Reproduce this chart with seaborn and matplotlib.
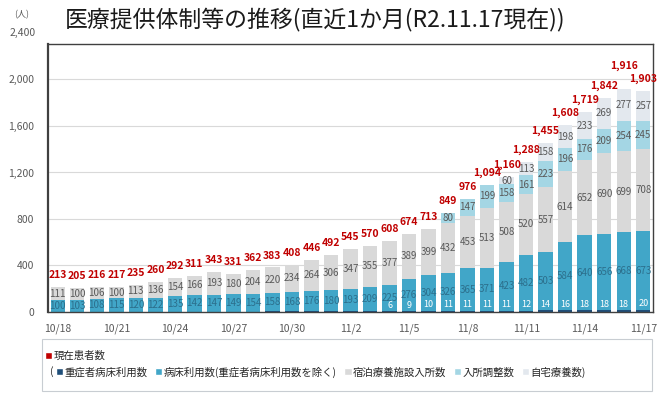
import pandas as pd
import matplotlib.pyplot as plt
import seaborn as sns
from matplotlib.patches import Patch, Rectangle

# 医療提供体制等の推移 (R2.10.18 - R2.11.17)
dates = ['10/18', '10/19', '10/20', '10/21', '10/22', '10/23', '10/24', '10/25',
         '10/26', '10/27', '10/28', '10/29', '10/30', '10/31', '11/1', '11/2',
         '11/3', '11/4', '11/5', '11/6', '11/7', '11/8', '11/9', '11/10',
         '11/11', '11/12', '11/13', '11/14', '11/15', '11/16', '11/17']
severe = [2, 2, 2, 2, 2, 2, 3, 3, 3, 2, 4, 5, 6, 6, 6, 5,
          6, 6, 9, 10, 11, 11, 11, 11, 12, 14, 16, 18, 18, 18, 20]
hospital = [100, 103, 108, 115, 120, 122, 135, 142, 147, 149, 154, 158, 168, 176, 180, 193,
            209, 225, 276, 304, 326, 365, 371, 423, 482, 503, 584, 640, 656, 668, 673]
lodging = [111, 100, 106, 100, 113, 136, 154, 166, 193, 180, 204, 220, 234, 264, 306, 347,
           355, 377, 389, 399, 432, 453, 513, 508, 520, 557, 614, 652, 690, 699, 708]
adjusting = [0, 0, 0, 0, 0, 0, 0, 0, 0, 0, 0, 0, 0, 0, 0, 0,
             0, 0, 0, 0, 80, 147, 199, 158, 161, 223, 196, 176, 209, 254, 245]
home = [0, 0, 0, 0, 0, 0, 0, 0, 0, 0, 0, 0, 0, 0, 0, 0,
        0, 0, 0, 0, 0, 0, 0, 60, 113, 158, 198, 233, 269, 277, 257]
totals = [213, 205, 216, 217, 235, 260, 292, 311, 343, 331, 362, 383, 408, 446, 492, 545,
          570, 608, 674, 713, 849, 976, 1094, 1160, 1288, 1455, 1608, 1719, 1842, 1916, 1903]
# severe counts are only printed from 11/4 on
severe_first_label = 17

series = [
    ('重症者病床利用数', severe, '#1F4E79'),
    ('病床利用数(重症者病床利用数を除く)', hospital, '#41A6C8'),
    ('宿泊療養施設入所数', lodging, '#D9D9D9'),
    ('入所調整数', adjusting, '#A4D6E4'),
    ('自宅療養数', home, '#E3E8EE'),
]

df = pd.DataFrame({'date': dates})

sns.set_theme(style='white')
plt.rcParams['font.family'] = ['Noto Sans CJK JP', 'DejaVu Sans']

fig = plt.figure(figsize=(6.6, 3.96), dpi=100)
ax = fig.add_axes([48 / 660, 84 / 396, 605 / 660, 268 / 396])

bottom = [0] * len(dates)
for name, vals, col in series:
    sns.barplot(x=df['date'], y=vals, bottom=bottom, color=col, saturation=1,
                width=0.74, errorbar=None, linewidth=0, ax=ax, zorder=2)
    bottom = [b + v for b, v in zip(bottom, vals)]

cont = ax.containers
# value labels
sev_labels = [str(v) if i >= severe_first_label else '' for i, v in enumerate(severe)]
ax.bar_label(cont[0], labels=sev_labels, label_type='edge', padding=1,
             fontsize=6.5, color='white')
ax.bar_label(cont[1], labels=[str(v) for v in hospital], label_type='center',
             fontsize=7, color='#2C6F8C')
ax.bar_label(cont[2], labels=[str(v) for v in lodging], label_type='center',
             fontsize=7, color='#595959')
ax.bar_label(cont[3], labels=[str(v) if v else '' for v in adjusting], label_type='center',
             fontsize=7, color='#595959')
ax.bar_label(cont[4], labels=[str(v) if v else '' for v in home], label_type='center',
             fontsize=7, color='#595959')
tot = ax.bar_label(cont[4], labels=[f'{v:,}' for v in totals], label_type='edge', padding=5,
                   fontsize=7.5, color='#C00000', fontweight='bold', fontstyle='italic')
# 11/16 sits higher so it clears 11/17
tot[29].xyann = (0, 13)

ax.set_xlim(-0.5, len(dates) - 0.5)
ax.set_ylim(0, 2305)
ax.set_yticks(range(0, 2400, 400))
ax.yaxis.set_major_formatter(plt.FuncFormatter(lambda v, p: f'{int(v):,}'))
ax.set_xticks(range(0, len(dates), 3))
ax.set_xticklabels(dates[::3])
ax.tick_params(axis='both', length=0, labelsize=7.5, labelcolor='#595959')
ax.tick_params(axis='x', pad=8)
ax.tick_params(axis='y', pad=10)
ax.text(-0.02, 2400, '2,400', transform=ax.get_yaxis_transform(), ha='right',
        va='center', fontsize=7.5, color='#595959', clip_on=False)
ax.set_xlabel('')
ax.set_ylabel('')
ax.grid(axis='y', color='#D9D9D9', linewidth=0.8, zorder=0)
ax.set_axisbelow(True)
for s in ax.spines.values():
    s.set_color('#404040')
    s.set_linewidth(1.0)
ax.spines['left'].set_linewidth(1.6)

fig.text(22 / 660, 1 - 15 / 396, '(人)', fontsize=6.5, color='#595959', ha='center', va='center')
fig.text(65 / 660, 1 - 19 / 396, '医療提供体制等の推移(直近1か月(R2.11.17現在))',
         fontsize=16.5, color='#1A1A1A', ha='left', va='center')

# legend box
fig.patches.append(Rectangle((42 / 660, 5 / 396), 610 / 660, 52 / 396,
                             transform=fig.transFigure, facecolor='white',
                             edgecolor='#C8CDD2', linewidth=0.8))
leg1 = fig.legend(handles=[Patch(facecolor='#C00000')], labels=['現在患者数'],
                  loc='center left', bbox_to_anchor=(45 / 660, 1 - 356 / 396),
                  frameon=False, fontsize=7.5, handlelength=0.7, handleheight=0.7,
                  handletextpad=0.15, borderpad=0, borderaxespad=0)
fig.text(50 / 660, 1 - 372 / 396, '(', fontsize=7.5, color='#262626', ha='left', va='center')
labels2 = [name for name, _, _ in series]
labels2[-1] = labels2[-1] + ')'
leg2 = fig.legend(handles=[Patch(facecolor=c) for _, _, c in series], labels=labels2,
                  loc='center left', bbox_to_anchor=(56 / 660, 1 - 372 / 396), ncol=5,
                  frameon=False, fontsize=7.5, handlelength=0.7, handleheight=0.7,
                  handletextpad=0.15, columnspacing=0.7, borderpad=0, borderaxespad=0)

plt.savefig('out.png', dpi=100)
plt.close()
